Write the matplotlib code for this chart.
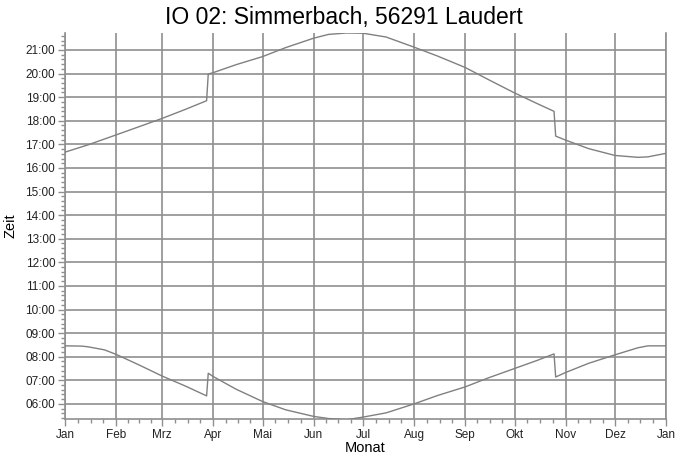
import matplotlib
matplotlib.use("Agg")
import matplotlib.pyplot as plt
from matplotlib.ticker import FixedLocator, FuncFormatter, MultipleLocator

plt.rcParams['font.family'] = ['Liberation Sans', 'DejaVu Sans']

title = "IO 02: Simmerbach, 56291 Laudert"
month_labels = ["Jan", "Feb", "Mrz", "Apr", "Mai", "Jun", "Jul", "Aug",
                "Sep", "Okt", "Nov", "Dez", "Jan"]
month_starts = [0, 31, 59, 90, 120, 151, 181, 212, 243, 273, 304, 334, 365]

# day of year and time in hours
sunset_days = [0, 14, 31, 45, 59, 73, 86, 87, 90, 104, 120, 134, 151, 160, 171,
               181, 195, 212, 226, 243, 257, 273, 287, 297, 298, 304, 318,
               334, 348, 354, 365]
sunset_hours = [16.67, 16.98, 17.40, 17.75, 18.10, 18.48, 18.85, 19.98, 20.04,
                20.38, 20.72, 21.10, 21.50, 21.66, 21.72, 21.71, 21.55, 21.12,
                20.75, 20.26, 19.75, 19.18, 18.72, 18.40, 17.35, 17.18, 16.82,
                16.53, 16.45, 16.47, 16.62]

sunrise_days = [0, 10, 14, 24, 31, 45, 59, 73, 86, 87, 90, 104, 120, 134, 151,
                160, 171, 181, 195, 212, 226, 243, 257, 273, 287, 297, 298,
                304, 318, 334, 348, 354, 365]
sunrise_hours = [8.46, 8.45, 8.42, 8.29, 8.10, 7.65, 7.18, 6.76, 6.34, 7.30,
                 7.16, 6.62, 6.10, 5.75, 5.47, 5.38, 5.33, 5.44, 5.62, 6.00,
                 6.35, 6.72, 7.10, 7.50, 7.85, 8.12, 7.14, 7.33, 7.72, 8.08,
                 8.38, 8.46, 8.46]

fig = plt.figure(figsize=(6.87, 4.59), dpi=100)
ax = fig.add_axes([65/687, 40/459, (666-65)/687, (419-33)/459])

line_color = "#808080"
grid_color = "#8f8f8f"

ax.plot(sunset_days, sunset_hours, color=line_color, lw=1.0, zorder=3)
ax.plot(sunrise_days, sunrise_hours, color=line_color, lw=1.0, zorder=3)

ax.set_xlim(0, 365)
ax.set_ylim(5.36, 21.72)

ax.xaxis.set_major_locator(FixedLocator(month_starts))
ax.set_xticklabels(month_labels)
minor_x = []
for a, b in zip(month_starts[:-1], month_starts[1:]):
    for k in range(1, 4):
        minor_x.append(a + (b - a) * k / 4)
ax.xaxis.set_minor_locator(FixedLocator(minor_x))

ax.yaxis.set_major_locator(MultipleLocator(1))
ax.yaxis.set_minor_locator(MultipleLocator(0.2))
ax.yaxis.set_major_formatter(FuncFormatter(lambda v, p: "%02d:00" % round(v)))

ax.grid(True, which='major', color=grid_color, lw=1.2)
ax.set_axisbelow(True)

ax.spines['top'].set_visible(False)
for s in ['left', 'bottom', 'right']:
    ax.spines[s].set_color(grid_color)
    ax.spines[s].set_linewidth(1.2)

ax.tick_params(axis='both', which='major', length=5, width=1.0,
               color=grid_color, labelsize=8.5, labelcolor="#222222", pad=2)
ax.tick_params(axis='both', which='minor', length=3, width=1.0,
               color=grid_color)
ax.tick_params(axis='y', which='both', right=False)

ax.set_xlabel("Monat", fontsize=10.5, labelpad=0)
ax.set_ylabel("Zeit", fontsize=10.5, labelpad=6)
fig.suptitle(title, fontsize=16.5, y=0.987)

fig.savefig("out.png", dpi=100)
